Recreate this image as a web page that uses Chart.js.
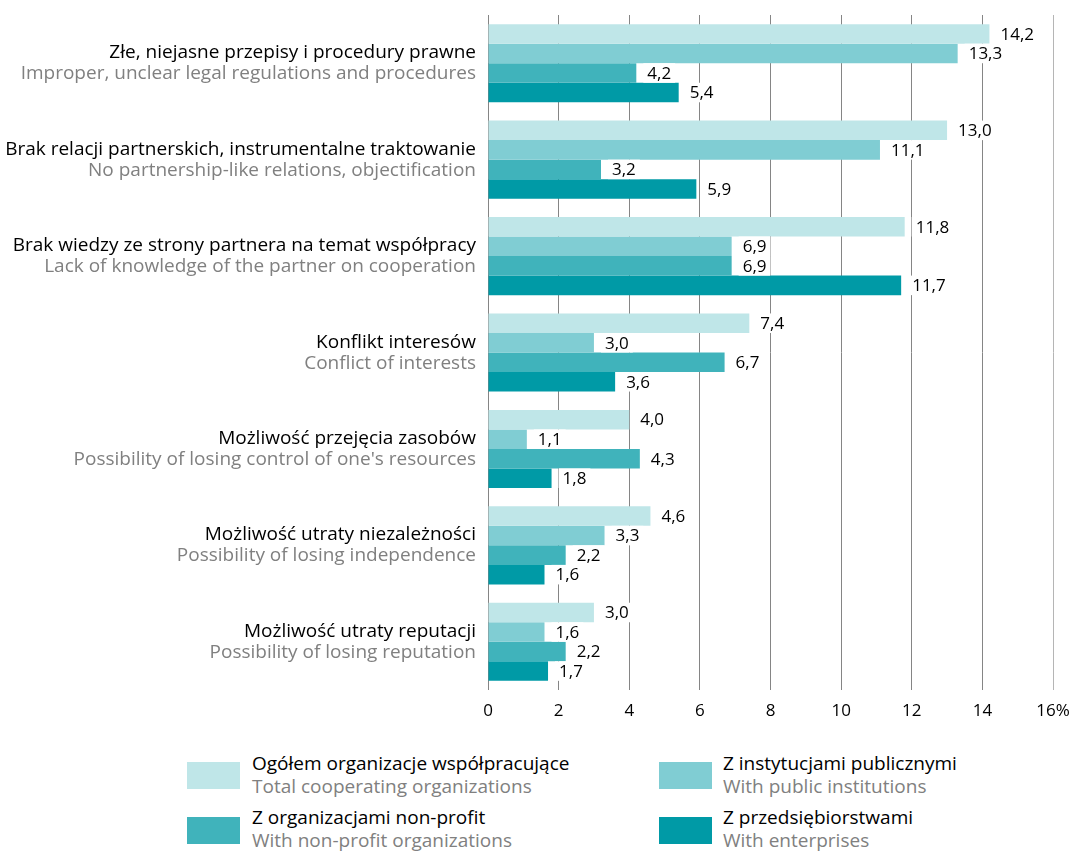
<!DOCTYPE html>
<html>
<head>
<meta charset="utf-8">
<script src="https://cdn.jsdelivr.net/npm/chart.js@4.4.0/dist/chart.umd.min.js"></script>
<style>
  body { margin: 0; background: #fff; font-family: "Open Sans", sans-serif; }
  #wrap { position: relative; width: 1075px; height: 852px; overflow: hidden; }
  canvas { position: absolute; left: 0; top: 0; }
  .lg-box { position: absolute; width: 53px; height: 27px; }
  .lg-text { position: absolute; font-size: 19px; line-height: 23px; white-space: nowrap; }
  .lg-text .pl { color: #000; }
  .lg-text .en { color: #808080; }
</style>
</head>
<body>
<div id="wrap">
  <canvas id="chart" width="1075" height="730"></canvas>
  <div id="legend"></div>
</div>
<script>
// kategorie (PL / EN)
const categoriesPl = [
  'Złe, niejasne przepisy i procedury prawne',
  'Brak relacji partnerskich, instrumentalne traktowanie',
  'Brak wiedzy ze strony partnera na temat współpracy',
  'Konflikt interesów',
  'Możliwość przejęcia zasobów',
  'Możliwość utraty niezależności',
  'Możliwość utraty reputacji'
];
const categoriesEn = [
  'Improper, unclear legal regulations and procedures',
  'No partnership-like relations, objectification',
  'Lack of knowledge of the partner on cooperation',
  'Conflict of interests',
  "Possibility of losing control of one's resources",
  'Possibility of losing independence',
  'Possibility of losing reputation'
];

// wartości w %
const totalOrgs = [14.2, 13.0, 11.8, 7.4, 4.0, 4.6, 3.0];
const publicInst = [13.3, 11.1, 6.9, 3.0, 1.1, 3.3, 1.6];
const nonProfit = [4.2, 3.2, 6.9, 6.7, 4.3, 2.2, 2.2];
const enterprises = [5.4, 5.9, 11.7, 3.6, 1.8, 1.6, 1.7];

const seriesPl = ['Ogółem organizacje współpracujące', 'Z instytucjami publicznymi', 'Z organizacjami non-profit', 'Z przedsiębiorstwami'];
const seriesEn = ['Total cooperating organizations', 'With public institutions', 'With non-profit organizations', 'With enterprises'];
const colors = ['#bfe6e8', '#80cdd3', '#40b3bb', '#009aa6'];

const xTicks = [0, 2, 4, 6, 8, 10, 12, 14, 16];

const FONT = '"Open Sans", sans-serif';
const FS = 17;
const FS_CAT = 19;

// etykiety wartości z białym tłem
const valueLabels = {
  id: 'valueLabels',
  afterDatasetsDraw(chart) {
    const ctx = chart.ctx;
    ctx.save();
    ctx.font = FS + 'px ' + FONT;
    ctx.textBaseline = 'middle';
    ctx.textAlign = 'left';
    chart.data.datasets.forEach((ds, di) => {
      const meta = chart.getDatasetMeta(di);
      meta.data.forEach((bar, i) => {
        const txt = ds.data[i].toFixed(1).replace('.', ',');
        const x = bar.x + 11;
        const w = ctx.measureText(txt).width;
        const h = bar.height;
        ctx.fillStyle = '#fff';
        ctx.fillRect(x - 4, bar.y - h / 2, w + 8, h);
        ctx.fillStyle = '#000';
        ctx.fillText(txt, x, bar.y + 1);
      });
    });
    ctx.restore();
  }
};

// dwujęzyczne etykiety kategorii
const categoryLabels = {
  id: 'categoryLabels',
  afterDraw(chart) {
    const ctx = chart.ctx;
    const y = chart.scales.y;
    ctx.save();
    ctx.font = FS_CAT + 'px ' + FONT;
    ctx.textAlign = 'right';
    ctx.textBaseline = 'alphabetic';
    categoriesPl.forEach((c, i) => {
      const py = y.getPixelForValue(i);
      ctx.fillStyle = '#000';
      ctx.fillText(c, 476, py - 5);
      ctx.fillStyle = '#808080';
      ctx.fillText(categoriesEn[i], 476, py + 16);
    });
    ctx.restore();
  }
};

new Chart(document.getElementById('chart'), {
  type: 'bar',
  data: {
    labels: categoriesPl,
    datasets: [totalOrgs, publicInst, nonProfit, enterprises].map((d, i) => ({
      label: seriesPl[i],
      data: d,
      backgroundColor: colors[i],
      borderWidth: 0
    }))
  },
  options: {
    indexAxis: 'y',
    responsive: false,
    animation: false,
    datasets: { bar: { categoryPercentage: 0.81, barPercentage: 1 } },
    layout: { padding: { left: 488, right: 22, top: 15, bottom: 0 } },
    plugins: { legend: { display: false }, tooltip: { enabled: false } },
    scales: {
      x: {
        min: 0,
        max: 16,
        afterBuildTicks: s => { s.ticks = xTicks.map(v => ({ value: v })); },
        afterFit: s => { s.height = 40; s.paddingLeft = 0; s.paddingRight = 0; },
        grid: {
          color: c => (c.tick && c.tick.value === 16) ? '#b5b5b5' : '#858585',
          lineWidth: 1,
          drawTicks: false
        },
        border: { display: false },
        ticks: {
          padding: 11,
          color: '#000',
          font: { family: FONT, size: FS },
          callback: v => v === 16 ? '16%' : String(v)
        }
      },
      y: {
        afterFit: s => { s.width = 0; s.paddingTop = 0; s.paddingBottom = 0; },
        grid: { display: false },
        border: { display: false },
        ticks: { display: false }
      }
    }
  },
  plugins: [valueLabels, categoryLabels]
});

// legenda (HTML)
const legendPos = [
  { bx: 187, by: 762, tx: 252, ty: 752 },
  { bx: 659, by: 762, tx: 723, ty: 752 },
  { bx: 187, by: 817, tx: 252, ty: 806 },
  { bx: 659, by: 817, tx: 723, ty: 806 }
];
const legend = document.getElementById('legend');
seriesPl.forEach((s, i) => {
  const p = legendPos[i];
  const box = document.createElement('div');
  box.className = 'lg-box';
  box.style.left = p.bx + 'px';
  box.style.top = p.by + 'px';
  box.style.background = colors[i];
  legend.appendChild(box);
  const t = document.createElement('div');
  t.className = 'lg-text';
  t.style.left = p.tx + 'px';
  t.style.top = p.ty + 'px';
  t.innerHTML = '<div class="pl">' + s + '</div><div class="en">' + seriesEn[i] + '</div>';
  legend.appendChild(t);
});
</script>
</body>
</html>
